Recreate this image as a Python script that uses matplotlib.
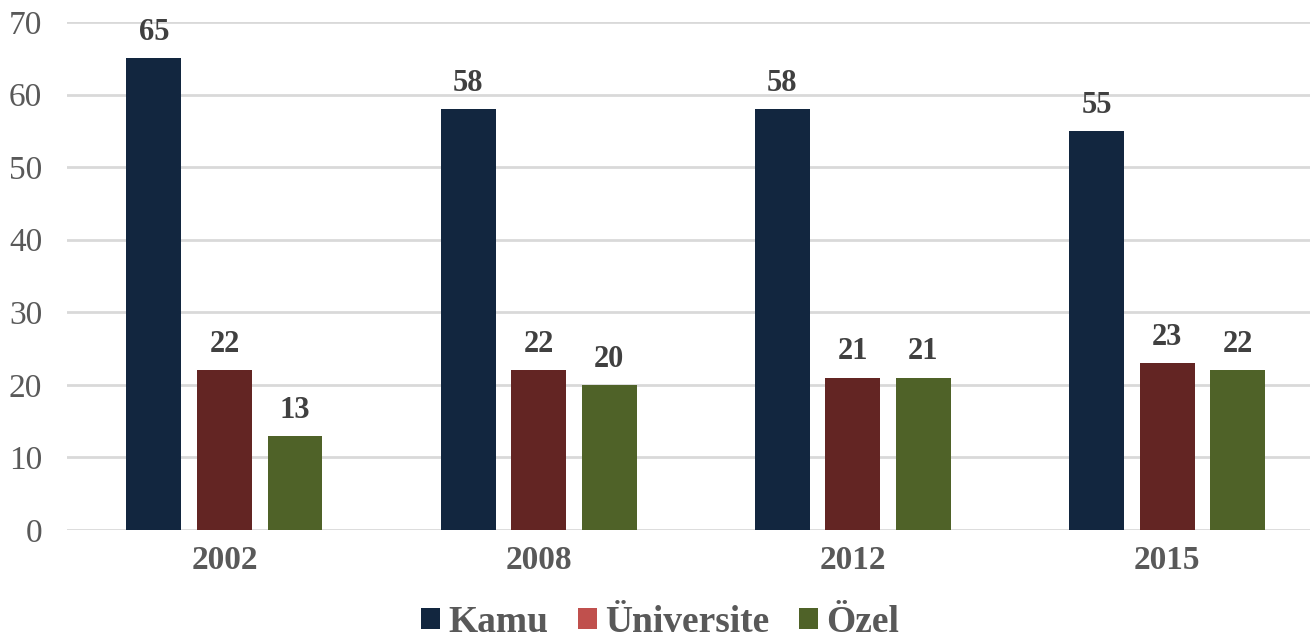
import matplotlib.pyplot as plt
from matplotlib.patches import Patch
import numpy as np

plt.rcParams['font.family'] = ['Liberation Serif', 'DejaVu Serif']

years = ['2002', '2008', '2012', '2015']
kamu = [65, 58, 58, 55]
universite = [22, 22, 21, 23]
ozel = [13, 20, 21, 22]

series = [
    ('Kamu', kamu, '#12263F', '#12263F'),
    ('Üniversite', universite, '#632523', '#C0504D'),
    ('Özel', ozel, '#4F6228', '#4F6228'),
]

fig = plt.figure(figsize=(13.1, 6.38), dpi=100)
ax = fig.add_axes([0.0514, 0.1693, 0.9595, 0.7962])

x = np.arange(len(years))
step = 0.2245
width = 0.175
handles = []
for i, (name, vals, color, legend_color) in enumerate(series):
    pos = x + (i - 1) * step
    bars = ax.bar(pos, vals, width, color=color, zorder=3)
    for b, v in zip(bars, vals):
        ax.annotate(str(v), (b.get_x() + b.get_width() / 2, v),
                    xytext=(0, 8), textcoords='offset points',
                    ha='center', va='bottom', fontsize=22,
                    fontweight='bold', color='#404040')
    handles.append(Patch(facecolor=legend_color, label=name))

ax.set_xlim(-0.5, 3.5)
ax.set_ylim(0, 70)
ax.set_yticks(range(0, 71, 10))
ax.set_xticks(x)
ax.set_xticklabels(years, fontsize=24, fontweight='bold', color='#595959')
ax.tick_params(axis='y', labelsize=24, labelcolor='#595959', length=0, pad=18)
ax.tick_params(axis='x', length=0, pad=11)
ax.grid(axis='y', color='#D9D9D9', linewidth=2, zorder=0)
for s in ax.spines.values():
    s.set_visible(False)

leg = fig.legend(handles=handles, loc='center', bbox_to_anchor=(0.504, 0.025),
                 ncol=3, frameon=False, handlelength=0.5, handleheight=0.5,
                 handletextpad=0.22, columnspacing=0.8,
                 prop={'size': 27, 'weight': 'bold'})
for t in leg.get_texts():
    t.set_color('#595959')

fig.savefig('out.png', dpi=100)
